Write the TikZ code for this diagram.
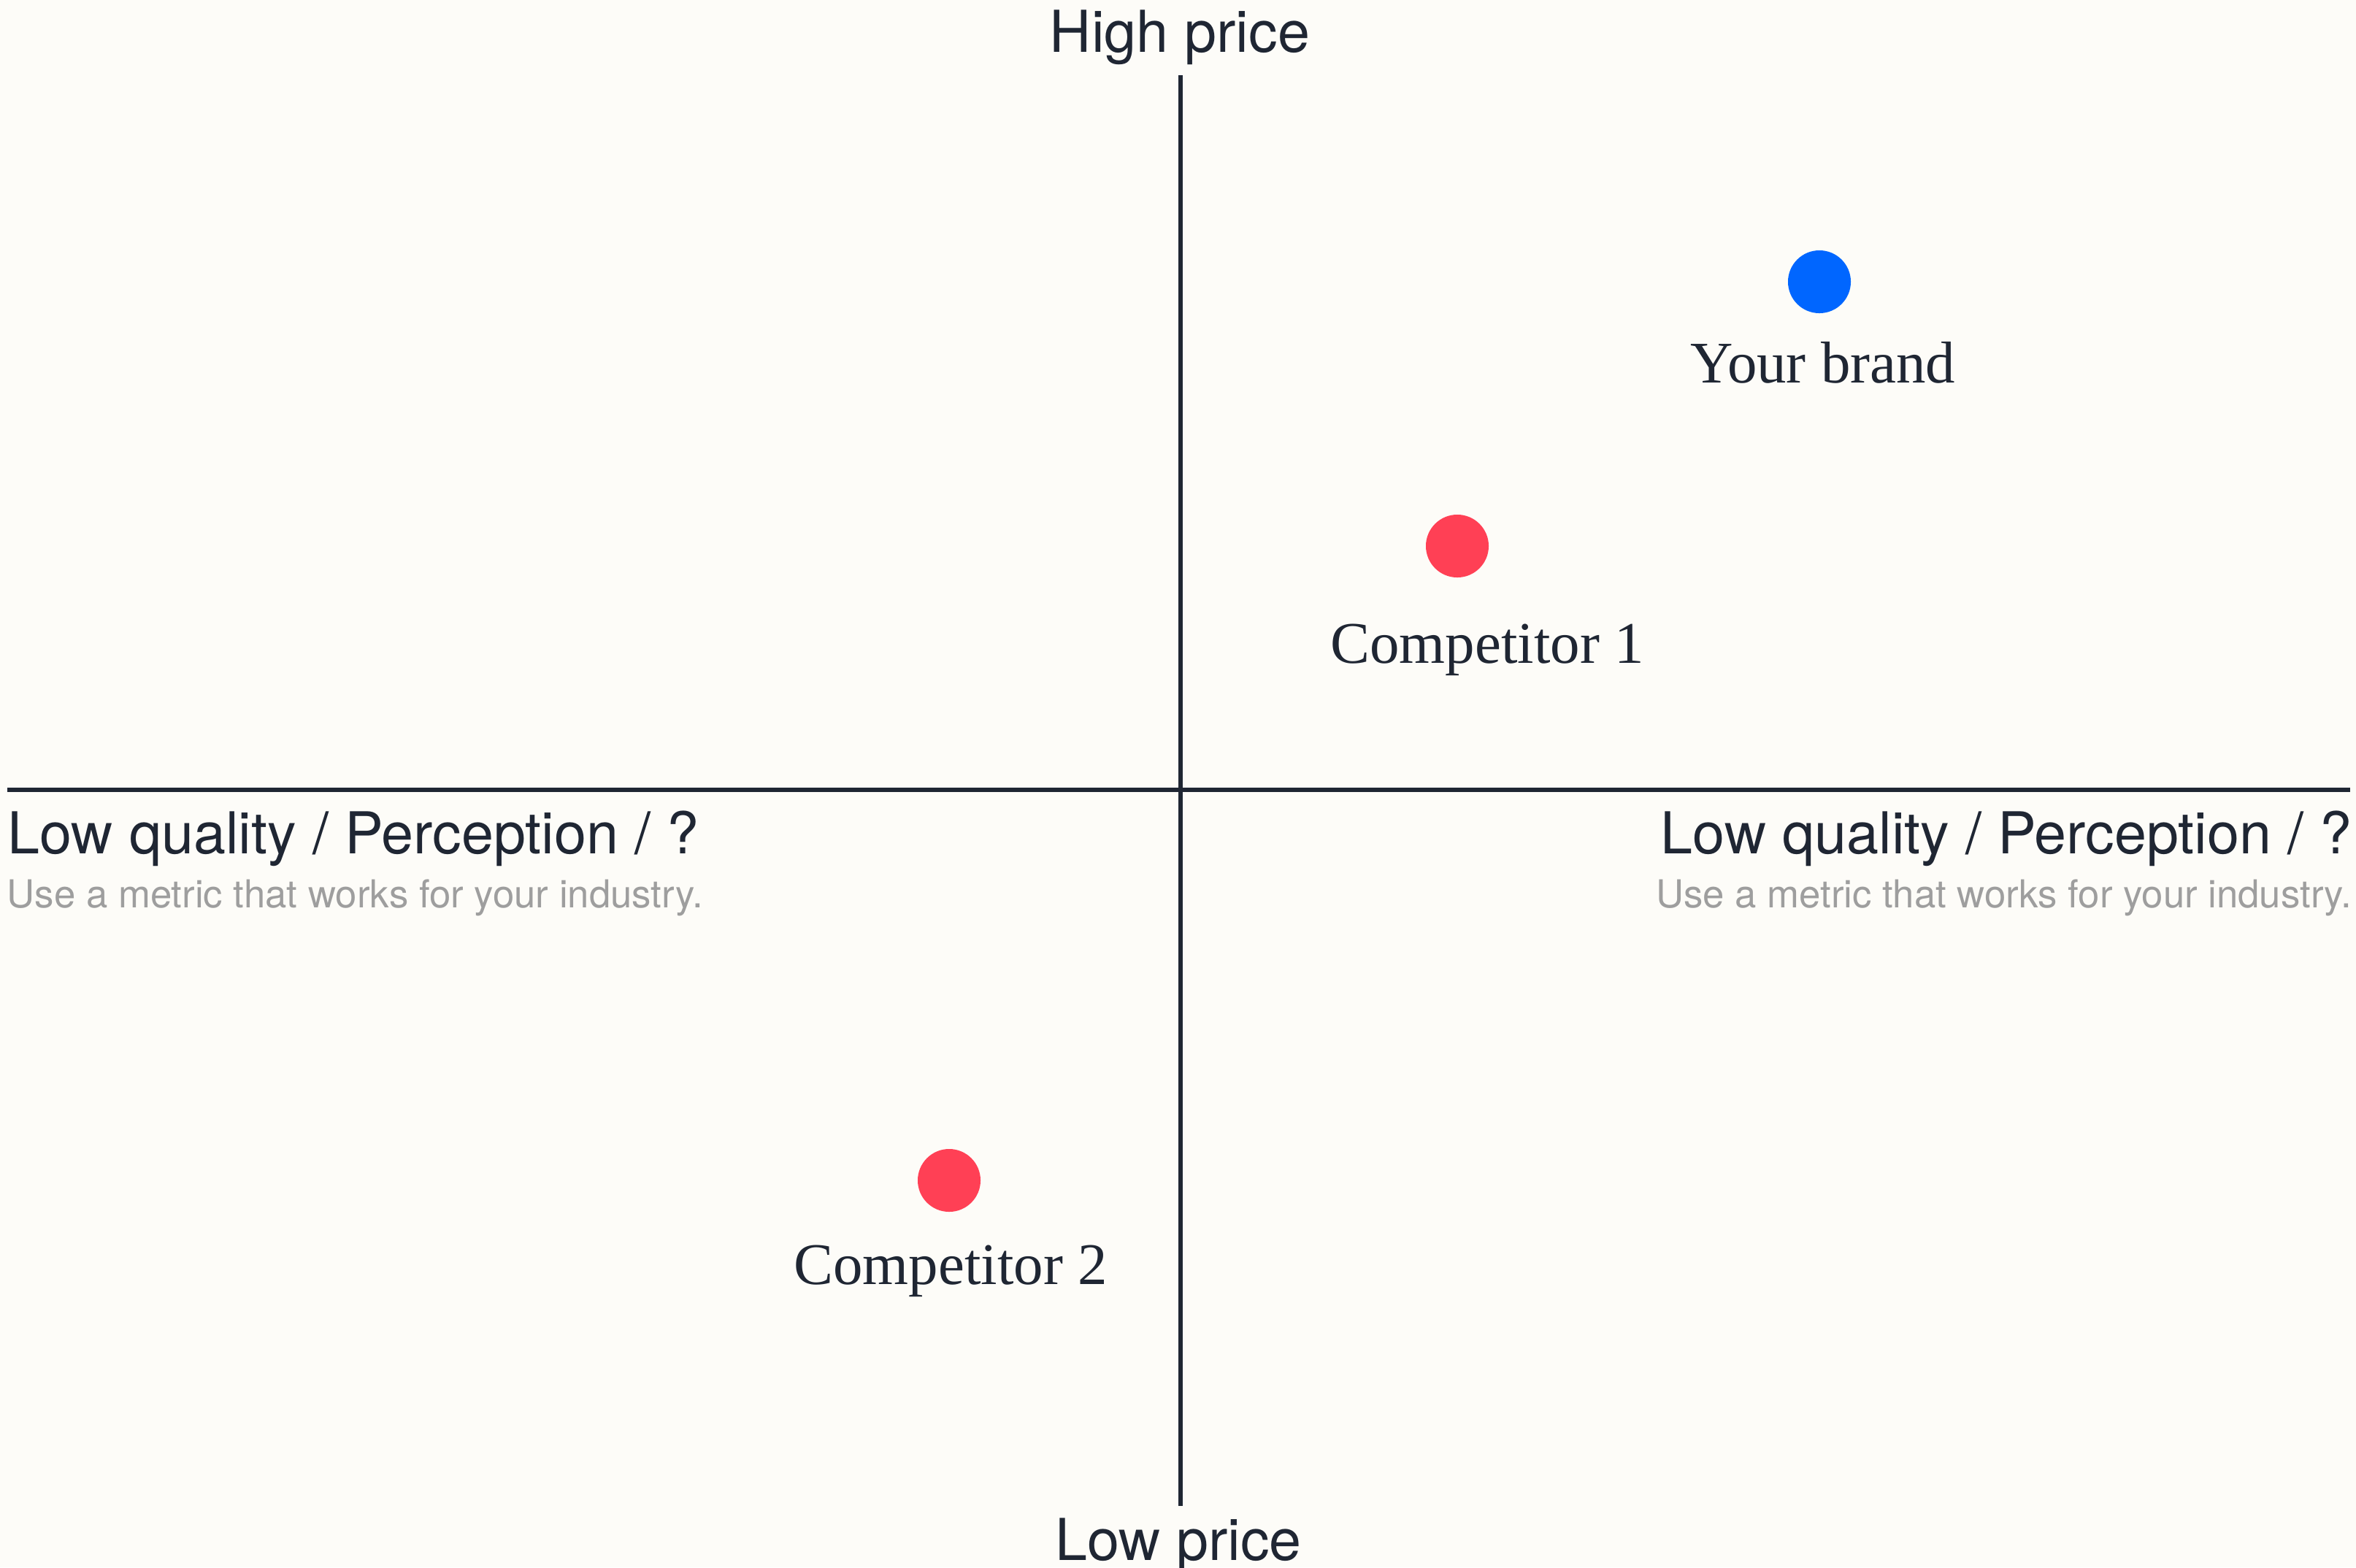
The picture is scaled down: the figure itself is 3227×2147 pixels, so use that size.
\documentclass[tikz,border=0pt]{standalone}
\usepackage{fontspec}
\setmainfont{Liberation Serif}
\setsansfont{TeX Gyre Heros}
\usetikzlibrary{positioning,calc}
\definecolor{ink}{HTML}{1F2633}
\definecolor{paper}{HTML}{FDFCF8}
\definecolor{brandblue}{HTML}{0066FF}
\definecolor{rivalred}{HTML}{FF4055}
\definecolor{hint}{HTML}{9E9E9E}

\begin{document}
\begin{tikzpicture}[x=0.01cm,y=-0.01cm,
  axis/.style={ink,line width=1.8pt},
  axislabel/.style={inner sep=0pt,text=ink,font=\sffamily\fontsize{22.5pt}{27pt}\selectfont},
  metric/.style={inner sep=0pt,text=hint,font=\sffamily\fontsize{15pt}{18pt}\selectfont},
  dot/.style={circle,inner sep=0pt,minimum size=0.86cm},
  dotlabel/.style={inner sep=0pt,anchor=base,text=ink,font=\fontsize{23pt}{28pt}\selectfont}]
\fill[paper] (0,0) rectangle (3227,2147);
\useasboundingbox (0,0) rectangle (3227,2147);

\coordinate (top) at (1617,103);
\coordinate (bottom) at (1617,2063);
\coordinate (left) at (10,1082);
\coordinate (right) at (3219,1082);
\draw[axis] (top) -- (bottom);
\draw[axis] (left) -- (right);

\node[axislabel,anchor=base] (high) at (1616,71) {High price};
\node[axislabel,anchor=base] (low) at (1614,2137) {Low price};
\node[axislabel,anchor=base west] (qleft) at (10,1169) {Low quality / Perception / ?};
\node[metric,anchor=base west] (mleft) at (9,1243) {Use a metric that works for your industry.};
\node[axislabel,anchor=base east] (qright) at (3222,1169) {Low quality / Perception / ?};
\node[metric,anchor=base east] (mright) at (3222,1243) {Use a metric that works for your industry.};

\node[dot,fill=brandblue] (brand) at (2492,386) {};
\node[dot,fill=rivalred] (rival1) at (1996,748) {};
\node[dot,fill=rivalred] (rival2) at (1300,1617) {};
\node[dotlabel] (brandname) at (2497,524) {Your brand};
\node[dotlabel] (rival1name) at (2037,908) {Competitor 1};
\node[dotlabel] (rival2name) at (1302,1759) {Competitor 2};
\end{tikzpicture}
\end{document}
